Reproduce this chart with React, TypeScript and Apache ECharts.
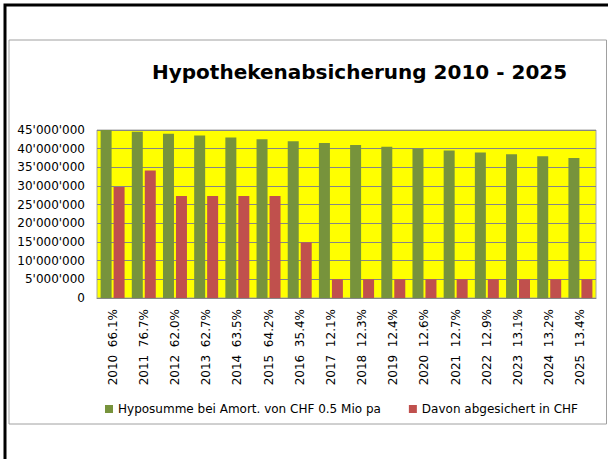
import React, { useEffect, useRef } from "react";
import * as echarts from "echarts";

const years = ["2010", "2011", "2012", "2013", "2014", "2015", "2016", "2017", "2018", "2019", "2020", "2021", "2022", "2023", "2024", "2025"];
const coverage = ["66.1%", "76.7%", "62.0%", "62.7%", "63.5%", "64.2%", "35.4%", "12.1%", "12.3%", "12.4%", "12.6%", "12.7%", "12.9%", "13.1%", "13.2%", "13.4%"];
const hyposumme = [45000000, 44500000, 44000000, 43500000, 43000000, 42500000, 42000000, 41500000, 41000000, 40500000, 40000000, 39500000, 39000000, 38500000, 38000000, 37500000];
const abgesichert = [29750000, 34130000, 27300000, 27300000, 27300000, 27300000, 14880000, 5000000, 5000000, 5000000, 5000000, 5000000, 5000000, 5000000, 5000000, 5000000];
const seriesNames = ["Hyposumme bei Amort. von CHF 0.5 Mio pa", "Davon abgesichert in CHF"];
const title = "Hypothekenabsicherung 2010 - 2025";

const FONT = "DejaVu Sans";

function fmt(v: number): string {
  return String(Math.round(v)).replace(/\B(?=(\d{3})+(?!\d))/g, "'");
}

export default function App() {
  const ref = useRef<HTMLDivElement>(null);
  useEffect(() => {
    if (!ref.current) return;
    const chart = echarts.init(ref.current, null, { renderer: "svg" });
    const categories = years.map((y, i) => `${y}  ${coverage[i]}`);
    chart.setOption({
      animation: false,
      backgroundColor: "#ffffff",
      title: {
        text: title,
        left: 147,
        top: 57,
        textStyle: { fontFamily: FONT, fontWeight: "bold", fontSize: 20, color: "#000" },
      },
      graphic: [
        { type: "rect", shape: { x: 5, y: 5, width: 800, height: 800 }, style: { fill: "none", stroke: "#000", lineWidth: 3 }, z: -1 },
        { type: "rect", shape: { x: 9, y: 40, width: 597.5, height: 384 }, style: { fill: "none", stroke: "#a0a0a0", lineWidth: 1 }, z: -1 },
      ],
      legend: {
        left: 100,
        top: 398,
        itemWidth: 8,
        itemHeight: 8,
        itemGap: 28,
        icon: "rect",
        textStyle: { fontFamily: FONT, fontSize: 12, color: "#000" },
        data: seriesNames,
      },
      grid: {
        left: 97,
        right: 12,
        top: 130,
        bottom: 161,
        show: true,
        backgroundColor: "#ffff00",
        borderColor: "#a6a6a6",
        borderWidth: 1,
      },
      xAxis: {
        type: "category",
        data: categories,
        axisLine: { lineStyle: { color: "#868686" } },
        axisTick: { show: false },
        axisLabel: { rotate: 90, interval: 0, margin: 11, fontFamily: FONT, fontSize: 12, color: "#000" },
      },
      yAxis: {
        type: "value",
        min: 0,
        max: 45000000,
        interval: 5000000,
        axisLine: { show: false },
        axisTick: { show: false },
        splitLine: { lineStyle: { color: "#868686", width: 1 } },
        axisLabel: { margin: 12, fontFamily: FONT, fontSize: 12, color: "#000", formatter: (v: number) => fmt(v) },
      },
      series: [
        { name: seriesNames[0], type: "bar", data: hyposumme, barWidth: 11, barGap: "18%", itemStyle: { color: "#77933c" } },
        { name: seriesNames[1], type: "bar", data: abgesichert, barWidth: 11, itemStyle: { color: "#c0504d" } },
      ],
    });
    return () => chart.dispose();
  }, []);
  return <div ref={ref} style={{ position: "absolute", left: 0, top: 0, width: 608, height: 459 }} />;
}
